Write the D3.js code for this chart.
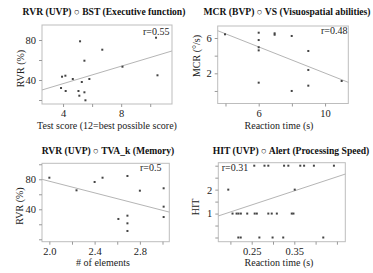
<svg id="chart"/>

<script src="https://cdnjs.cloudflare.com/ajax/libs/d3/7.8.5/d3.min.js"></script>
<script>

  // ---- data ----
  var bstX = [5.17, 6.7, 5.47, 10.4, 8.09, 10.5, 3.93, 4.16, 4.67, 5.81, 5.29, 3.86, 4.18, 5.06, 5.47, 5.12, 5.54],
      bstY = [78.7, 70.3, 59.3, 82.3, 53.3, 44.7, 43.3, 44.3, 41, 41, 38, 32, 29, 29, 27.7, 24.3, 19.7];

  var vsX = [3.97, 6, 6, 6, 6, 6, 6.96, 6.96, 7.99, 8.99, 8.99, 8.99, 7.99, 11.0],
      vsY = [6.42, 6.6, 5.77, 4.95, 4.6, 0.94, 6.53, 6.37, 6.23, 4.53, 2.38, 0.6, 0.0, 1.13];

  var tvaX = [2.0, 2.24, 2.40, 2.47, 2.69, 2.80, 3.01, 3.01, 3.01, 2.61, 2.69, 2.69, 2.69],
      tvaY = [82.1, 65.3, 76.4, 82.1, 84.4, 64.8, 68, 43.5, 29.7, 27.1, 31.5, 21.3, 11.1];

  var alertX = [0.256, 0.280, 0.289, 0.326, 0.336, 0.364, 0.373, 0.396, 0.443,
                0.195, 0.351,
                0.205, 0.2145, 0.219, 0.2245, 0.2395, 0.257, 0.262, 0.289, 0.297, 0.309, 0.344, 0.348,
                0.2186, 0.2242, 0.268, 0.299, 0.324, 0.418],
      alertY = [3, 3, 3, 3, 3, 3, 3, 3, 3,
                2, 2,
                1, 1, 1, 1, 1, 1, 1, 1, 1, 1, 1, 1,
                0, 0, 0, 0, 0, 0];

  // regression lines [intercept, slope]
  var bstFit   = [18.9, 4.36],
      vsFit    = [9.45, -0.743],
      tvaFit   = [155, -38.8],
      alertFit = [-0.107, 5.87];

  var titles  = ["RVR (UVP) \u25CB BST (Executive function)",
                 "MCR (BVP) \u25CB VS (Visuospatial abilities)",
                 "RVR (UVP) \u25CB TVA_k (Memory)",
                 "HIT (UVP) \u25CB Alert (Processing Speed)"];
  var xLabels = ["Test score (12=best possible score)", "Reaction time (s)", "# of elements", "Reaction time (s)"];
  var yLabels = ["RVR (%)", "MCR (\u00B0/s)", "RVR (%)", "HIT"];
  var rLabels = ["r=0.55", "r=0.48", "r=0.5", "r=0.31"];

  // tick values (all ticks / labelled ticks)
  var bstXTicks = [4, 6, 8, 10],            bstXLab = [4, 8],
      bstYTicks = [20, 40, 60, 80],         bstYLab = [40, 80],
      vsXTicks  = [4, 6, 8, 10],            vsXLab  = [6, 10],
      vsYTicks  = [0, 2, 4, 6],             vsYLab  = [2, 6],
      tvaXTicks = [2.0, 2.2, 2.4, 2.6, 2.8, 3.0], tvaXLab = [2.0, 2.4, 2.8],
      tvaYTicks = [0, 20, 40, 60, 80, 100], tvaYLab = [40, 80],
      alXTicks  = [0.2, 0.25, 0.3, 0.35, 0.4, 0.45], alXLab = [0.25, 0.35],
      alYTicks  = [0, 0.5, 1, 1.5, 2, 2.5, 3],       alYLab = [1, 2];

  var width = 373, height = 273,
      serif = "'Liberation Serif', 'Times New Roman', serif";

  var svg = d3.select("#chart")
              .attr("width", width)
              .attr("height", height)
              .style("position", "absolute").style("left", 0).style("top", 0)
              .style("background", "#fff");
  d3.select("body").style("margin", 0);

  function panel(p) {
    var x = d3.scaleLinear().domain(p.xDomain).range([p.box[0], p.box[2]]),
        y = d3.scaleLinear().domain(p.yDomain).range([p.box[3], p.box[1]]);
    var g = svg.append("g");

    // frame
    g.append("rect")
     .attr("x", p.box[0]).attr("y", p.box[1])
     .attr("width", p.box[2] - p.box[0]).attr("height", p.box[3] - p.box[1])
     .attr("fill", "none").attr("stroke", "#bdbdbd").attr("stroke-width", 1);

    // axes
    var xa = d3.axisBottom(x).tickValues(p.xTicks).tickSize(3)
               .tickFormat(function(d) { return p.xLab.some(function(v) { return Math.abs(v - d) < 1e-9; }) ? p.xFmt(d) : ""; });
    var ya = d3.axisLeft(y).tickValues(p.yTicks).tickSize(3)
               .tickFormat(function(d) { return p.yLab.some(function(v) { return Math.abs(v - d) < 1e-9; }) ? p.yFmt(d) : ""; });

    g.append("g").attr("transform", "translate(0," + p.box[3] + ")").call(xa);
    g.append("g").attr("transform", "translate(" + p.box[0] + ",0)").call(ya);
    g.selectAll(".domain").remove();
    g.selectAll(".tick line").attr("stroke", "#999");
    g.selectAll(".tick text").attr("fill", "#222").style("font-family", serif).style("font-size", "10.5px");

    // regression line
    g.append("line")
     .attr("x1", x(p.xDomain[0])).attr("y1", y(p.fit[0] + p.fit[1] * p.xDomain[0]))
     .attr("x2", x(p.xDomain[1])).attr("y2", y(p.fit[0] + p.fit[1] * p.xDomain[1]))
     .attr("stroke", "#b5b5b5").attr("stroke-width", 1);

    // points
    g.selectAll(".pt").data(p.xs).enter().append("rect")
     .attr("class", "pt")
     .attr("x", function(d) { return x(d) - 1; })
     .attr("y", function(d, i) { return y(p.ys[i]) - 1; })
     .attr("width", 2).attr("height", 2)
     .attr("fill", "#444");

    // texts
    g.append("text").attr("x", p.titlePos[0]).attr("y", p.titlePos[1])
     .attr("text-anchor", "middle").style("font-family", serif).style("font-weight", "bold")
     .style("font-size", "9.6px").attr("fill", "#111").text(p.title);

    g.append("text").attr("x", p.xLabPos[0]).attr("y", p.xLabPos[1])
     .attr("text-anchor", "middle").style("font-family", serif)
     .style("font-size", "10px").attr("fill", "#222").text(p.xLabel);

    g.append("text").attr("transform", "translate(" + p.yLabPos[0] + "," + p.yLabPos[1] + ") rotate(-90)")
     .attr("text-anchor", "middle").style("font-family", serif)
     .style("font-size", "10px").attr("fill", "#222").text(p.yLabel);

    g.append("text").attr("x", p.rPos[0]).attr("y", p.rPos[1])
     .style("font-family", serif).style("font-size", "10px").attr("fill", "#222").text(p.r);
  }

  panel({ box: [42, 25, 172, 104], xDomain: [2.55, 11.5], yDomain: [16, 95],
          xs: bstX, ys: bstY, fit: bstFit,
          xTicks: bstXTicks, xLab: bstXLab, yTicks: bstYTicks, yLab: bstYLab,
          xFmt: d3.format("d"), yFmt: d3.format("d"),
          title: titles[0], titlePos: [104, 14.5],
          xLabel: xLabels[0], xLabPos: [107, 129],
          yLabel: yLabels[0], yLabPos: [24, 68.5],
          r: rLabels[0], rPos: [143, 35] });

  panel({ box: [217.7, 26, 348.3, 103.5], xDomain: [3.53, 11.4], yDomain: [-1.42, 7.36],
          xs: vsX, ys: vsY, fit: vsFit,
          xTicks: vsXTicks, xLab: vsXLab, yTicks: vsYTicks, yLab: vsYLab,
          xFmt: d3.format("d"), yFmt: d3.format("d"),
          title: titles[1], titlePos: [287, 14.5],
          xLabel: xLabels[1], xLabPos: [279, 129],
          yLabel: yLabels[1], yLabPos: [200, 56],
          r: rLabels[1], rPos: [321, 34] });

  panel({ box: [42, 163.3, 169.3, 241.7], xDomain: [1.935, 3.06], yDomain: [-3.2, 101.3],
          xs: tvaX, ys: tvaY, fit: tvaFit,
          xTicks: tvaXTicks, xLab: tvaXLab, yTicks: tvaYTicks, yLab: tvaYLab,
          xFmt: d3.format(".1f"), yFmt: d3.format("d"),
          title: titles[2], titlePos: [108, 154],
          xLabel: xLabels[2], xLabPos: [103, 266],
          yLabel: yLabels[2], yLabPos: [23, 206],
          r: rLabels[2], rPos: [140, 171] });

  panel({ box: [218.3, 162.7, 345.3, 241.7], xDomain: [0.1716, 0.4697], yDomain: [-0.175, 3.125],
          xs: alertX, ys: alertY, fit: alertFit,
          xTicks: alXTicks, xLab: alXLab, yTicks: alYTicks, yLab: alYLab,
          xFmt: d3.format(".2f"), yFmt: d3.format("d"),
          title: titles[3], titlePos: [291, 154],
          xLabel: xLabels[3], xLabPos: [279, 266],
          yLabel: yLabels[3], yLabPos: [199, 207],
          r: rLabels[3], rPos: [221.7, 171] });

</script>
